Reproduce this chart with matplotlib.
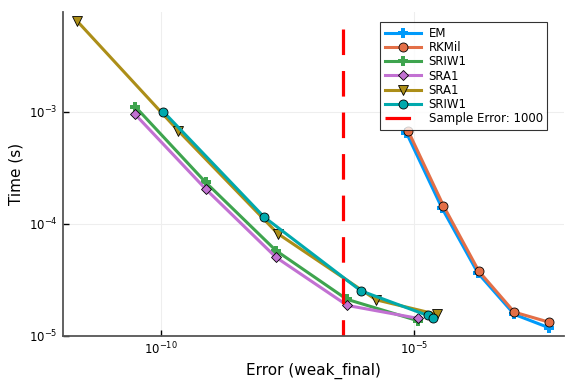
import numpy as np
import matplotlib
matplotlib.use("Agg")
import matplotlib.pyplot as plt

# values, stored as log10 of error / time
em_err = [-5.15, -4.45, -3.74, -3.02, -2.33]
em_time = [-3.19, -3.86, -4.44, -4.81, -4.93]
rkmil_err = [-5.12, -4.42, -3.72, -3.02, -2.33]
rkmil_time = [-3.17, -3.84, -4.425, -4.79, -4.88]
sriw1_err = [-10.51, -9.12, -7.73, -6.33, -4.93]
sriw1_time = [-2.955, -3.63, -4.24, -4.675, -4.866]
sra1_err = [-10.52, -9.12, -7.73, -6.32, -4.93]
sra1_time = [-3.02, -3.69, -4.30, -4.73, -4.845]
sra1b_err = [-11.66, -9.66, -7.69, -5.75, -4.55]
sra1b_time = [-2.19, -3.17, -4.09, -4.68, -4.81]
sriw1b_err = [-9.955, -7.965, -6.05, -4.73, -4.62]
sriw1b_time = [-3.0, -3.94, -4.60, -4.82, -4.84]
sample_err = -6.41
sample_span = [-5.0, -2.26]

series = [
    ("EM", em_err, em_time, "#009AFA", "P", 6.5),
    ("RKMil", rkmil_err, rkmil_time, "#E36F47", "o", 6.5),
    ("SRIW1", sriw1_err, sriw1_time, "#3EA44E", "P", 6.5),
    ("SRA1", sra1_err, sra1_time, "#C271D2", "D", 5.5),
    ("SRA1", sra1b_err, sra1b_time, "#AC8E18", "v", 6.5),
    ("SRIW1", sriw1b_err, sriw1b_time, "#00A9AD", "o", 6.5),
]

fig = plt.figure(figsize=(5.76, 3.84), dpi=100)
ax = fig.add_axes([0.109, 0.125, 0.870, 0.844])

for name, x, y, c, m, ms in series:
    if m == "P":
        ax.plot(10.0 ** np.array(x), 10.0 ** np.array(y), color=c, lw=2.2,
                marker=m, ms=ms, mec=c, mew=0, label=name)
    else:
        ax.plot(10.0 ** np.array(x), 10.0 ** np.array(y), color=c, lw=2.2,
                marker=m, ms=ms, mec="black", mew=0.6, label=name)

ax.plot([10.0 ** sample_err] * 2, 10.0 ** np.array(sample_span[::-1]),
        color="red", lw=2.3, dashes=(8, 5), label="Sample Error: 1000")

ax.set_xscale("log")
ax.set_yscale("log")
ax.set_xlim(10.0 ** -11.94, 10.0 ** -2.04)
ax.set_ylim(10.0 ** -5.003, 10.0 ** -2.11)
ax.set_xticks([1e-10, 1e-5])
ax.set_yticks([1e-5, 1e-4, 1e-3])
ax.minorticks_off()
ax.tick_params(direction="in", length=4, width=1, labelsize=8.5, colors="black")
ax.grid(True, color="#eeeeee", lw=0.8)
ax.set_axisbelow(True)
for s in ["top", "right"]:
    ax.spines[s].set_visible(False)
for s in ["left", "bottom"]:
    ax.spines[s].set_color("#555555")
    ax.spines[s].set_linewidth(1.3)

ax.set_xlabel("Error (weak_final)", fontsize=11)
ax.set_ylabel("Time (s)", fontsize=11)

leg = ax.legend(loc="upper right", bbox_to_anchor=(0.967, 0.968), fontsize=8.5,
                frameon=True, fancybox=False, handlelength=3.1,
                borderpad=0.4, labelspacing=0.1, handletextpad=0.6,
                borderaxespad=0.0)
leg.get_frame().set_edgecolor("black")
leg.get_frame().set_linewidth(0.8)

plt.savefig("out.png", dpi=100)
